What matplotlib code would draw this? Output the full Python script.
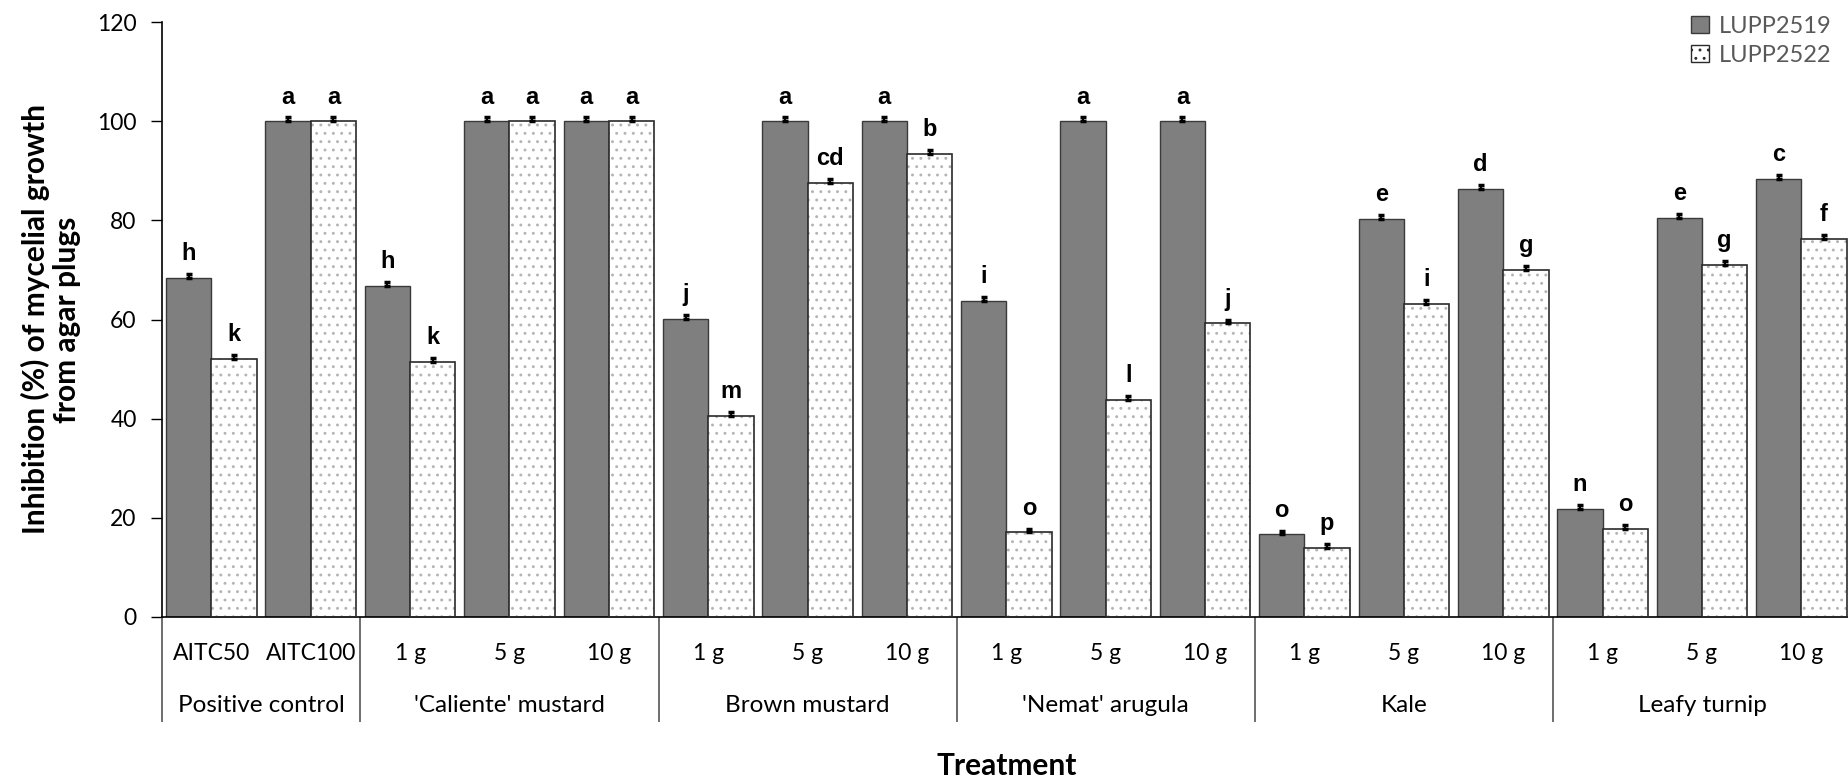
import matplotlib
matplotlib.use("Agg")
import matplotlib.pyplot as plt
from matplotlib.patches import Patch
import matplotlib.transforms as mtransforms
import numpy as np

# ---- data -------------------------------------------------------------
groups = ["Positive control", "'Caliente' mustard", "Brown mustard",
          "'Nemat' arugula", "Kale", "Leafy turnip"]
group_sizes = [2, 3, 3, 3, 3, 3]
sub_labels = ["AITC50", "AITC100",
              "1 g", "5 g", "10 g",
              "1 g", "5 g", "10 g",
              "1 g", "5 g", "10 g",
              "1 g", "5 g", "10 g",
              "1 g", "5 g", "10 g"]
series_names = ["LUPP2519", "LUPP2522"]
lupp2519 = [68.4, 100.0, 66.8, 100.0, 100.0, 60.1, 100.0, 100.0,
            63.7, 100.0, 100.0, 16.6, 80.3, 86.4, 21.7, 80.5, 88.4]
lupp2522 = [52.1, 100.0, 51.4, 100.0, 100.0, 40.5, 87.6, 93.5,
            17.0, 43.7, 59.2, 13.9, 63.2, 70.0, 17.8, 71.1, 76.2]
err2519 = [0.8] * 17
err2522 = [0.8] * 17
letters2519 = ["h", "a", "h", "a", "a", "j", "a", "a", "i", "a", "a",
               "o", "e", "d", "n", "e", "c"]
letters2522 = ["k", "a", "k", "a", "a", "m", "cd", "b", "o", "l", "j",
               "p", "i", "g", "o", "g", "f"]
y_ticks = [0, 20, 40, 60, 80, 100, 120]

# ---- style ------------------------------------------------------------
plt.rcParams["font.family"] = ["Lato", "DejaVu Sans"]
plt.rcParams["hatch.linewidth"] = 0.9

W, H = 1849, 779
fig = plt.figure(figsize=(W / 100, H / 100), dpi=100)
ax_left, ax_right = 161.7 / W, 1851.0 / W
ax_bottom, ax_top = 1 - 616.7 / H, 1 - 22.3 / H
ax = fig.add_axes([ax_left, ax_bottom, ax_right - ax_left, ax_top - ax_bottom])

n = len(sub_labels)
x = np.arange(n) + 0.5
bw = 0.456
dark = "#7f7f7f"

ax.bar(x - bw / 2, lupp2519, width=bw, color=dark, edgecolor="#3a3a3a",
       linewidth=1.0, zorder=2)
# dotted fill for the second series, then its outline on top
ax.bar(x + bw / 2, lupp2522, width=bw, color="white", edgecolor="#b4b4b4",
       hatch="..", linewidth=0, zorder=2)
ax.bar(x + bw / 2, lupp2522, width=bw, fill=False, edgecolor="#2a2a2a",
       linewidth=1.2, zorder=3)

ax.errorbar(x - bw / 2, lupp2519, yerr=[np.zeros(n), err2519], fmt="none",
            ecolor="black", elinewidth=1.5, capsize=2.5, capthick=2.5, zorder=4)
ax.errorbar(x + bw / 2, lupp2522, yerr=[np.zeros(n), err2522], fmt="none",
            ecolor="black", elinewidth=1.5, capsize=2.5, capthick=2.5, zorder=4)

lab_font = dict(family=["Liberation Sans", "DejaVu Sans"], fontweight="bold",
                fontsize=17, ha="center", va="baseline", color="black")
for xi, v, t in zip(x - bw / 2, lupp2519, letters2519):
    ax.text(xi, v + 3.6, t, **lab_font)
for xi, v, t in zip(x + bw / 2, lupp2522, letters2522):
    ax.text(xi, v + 3.6, t, **lab_font)

ax.set_xlim(0, n)
ax.set_ylim(0, 120)
ax.set_yticks(y_ticks)
ax.tick_params(axis="y", direction="out", length=8, width=1, labelsize=16.5,
               pad=10, colors="black")
ax.set_xticks([])
for s in ("top", "right"):
    ax.spines[s].set_visible(False)
ax.spines["left"].set_linewidth(1.2)
ax.spines["bottom"].set_linewidth(1.2)

# two-level category axis below the bars
trans = mtransforms.blended_transform_factory(ax.transData, ax.transAxes)
ax_h = 616.7 - 22.3
sub_y = -(653 - 616.7) / ax_h
grp_y = -(706 - 616.7) / ax_h
line_y = -(722 - 616.7) / ax_h
for xi, lab in zip(x, sub_labels):
    ax.text(xi, sub_y, lab, transform=trans, ha="center", va="center",
            fontsize=16.5, color="black")
start = 0
bounds = [0]
for g, size in zip(groups, group_sizes):
    ax.text(start + size / 2, grp_y, g, transform=trans, ha="center",
            va="center", fontsize=17.5, color="black")
    start += size
    bounds.append(start)
for b in bounds[:-1]:
    ax.plot([b, b], [0, line_y], transform=trans, color="#555555", lw=1.2,
            clip_on=False, solid_capstyle="butt")

fig.text((161.7 + 1851) / 2 / W, 1 - 766 / H, "Treatment", ha="center",
         va="center", fontsize=21.5, fontweight="bold")
fig.text(51 / W, 1 - 319.5 / H, "Inhibition (%) of mycelial growth\nfrom agar plugs",
         rotation=90, ha="center", va="center", multialignment="center",
         fontsize=21.5, fontweight="bold", linespacing=1.1)

handles = [Patch(facecolor=dark, edgecolor="#3a3a3a", linewidth=1.0),
           Patch(facecolor="white", edgecolor="#2a2a2a", hatch="..", linewidth=1.0)]
leg = fig.legend(handles, series_names, loc="upper left",
                 bbox_to_anchor=(1679 / W, 1 - 4 / H), frameon=False,
                 fontsize=17, handlelength=0.75, handleheight=0.75,
                 handletextpad=0.45, labelspacing=0.35, borderpad=0)
for t in leg.get_texts():
    t.set_color("#595959")

fig.savefig("out.png", dpi=100)
